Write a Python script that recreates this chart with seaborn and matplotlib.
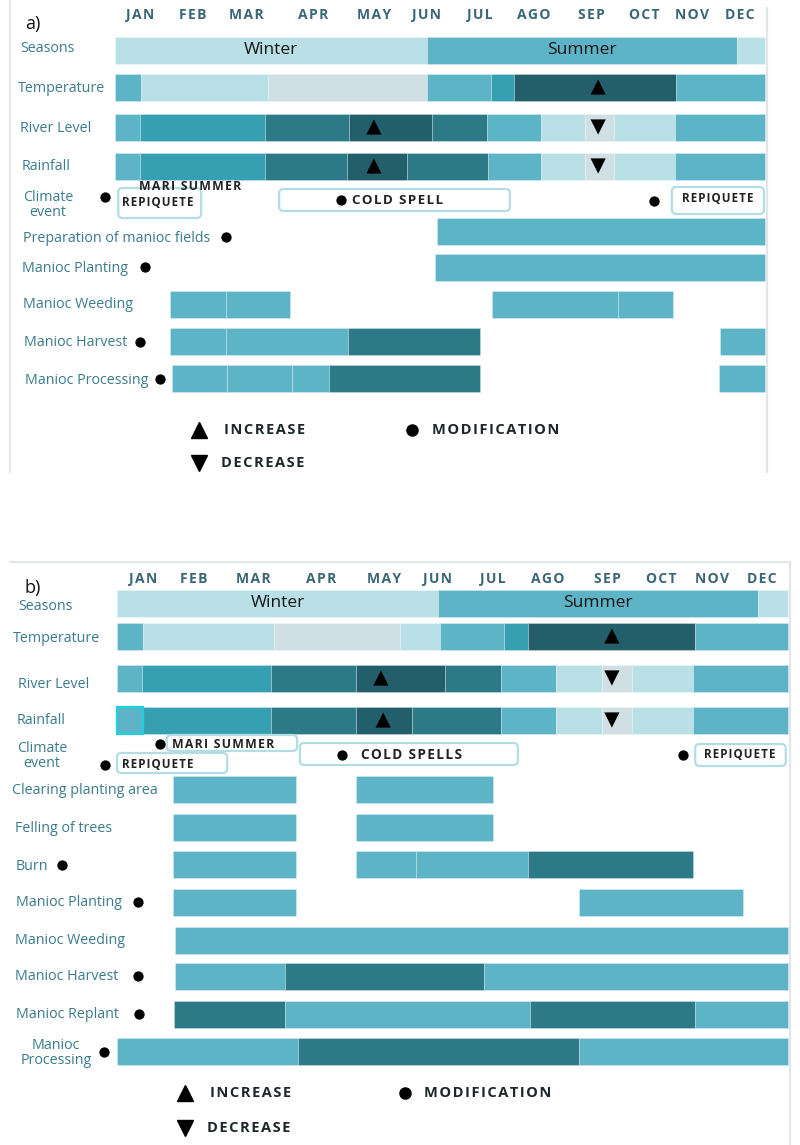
import pandas as pd
import seaborn as sns
import matplotlib.pyplot as plt
from matplotlib.patches import FancyBboxPatch
from matplotlib.lines import Line2D
from matplotlib.transforms import blended_transform_factory

MONTHS = ['JAN', 'FEB', 'MAR', 'APR', 'MAY', 'JUN', 'JUL', 'AGO', 'SEP', 'OCT', 'NOV', 'DEC']

TONES = {'light': '#b8e0e6', 'mid': '#5db4c6', 'teal': '#379fb2',
         'deep': '#2c7987', 'dark': '#235f6b', 'grey': '#cfdfe3'}

# ---- panel a : (start month, end month, tone) ----
A_SEASONS = [(0, 5.76, 'light'), (5.76, 11.48, 'mid'), (11.48, 12, 'light')]
A_SEASON_NAMES = ['Winter', 'Summer', '']
A_TEMPERATURE = [(0, 0.48, 'mid'), (0.48, 2.82, 'light'), (2.82, 5.76, 'grey'), (5.76, 6.94, 'mid'),
                 (6.94, 7.37, 'teal'), (7.37, 10.36, 'dark'), (10.36, 12, 'mid')]
A_RIVER = [(0, 0.46, 'mid'), (0.46, 2.77, 'teal'), (2.77, 4.32, 'deep'), (4.32, 5.85, 'dark'),
           (5.85, 6.87, 'deep'), (6.87, 7.86, 'mid'), (7.86, 8.68, 'light'), (8.68, 9.21, 'grey'),
           (9.21, 10.34, 'light'), (10.34, 12, 'mid')]
A_RAIN = [(0, 0.46, 'mid'), (0.46, 2.77, 'teal'), (2.77, 4.28, 'deep'), (4.28, 5.39, 'dark'),
          (5.39, 6.89, 'deep'), (6.89, 7.86, 'mid'), (7.86, 8.68, 'light'), (8.68, 9.21, 'grey'),
          (9.21, 10.34, 'light'), (10.34, 12, 'mid')]
A_PREP = [(5.94, 12, 'mid')]
A_PLANTING = [(5.91, 12, 'mid')]
A_WEEDING = [(1.02, 2.05, 'mid'), (2.05, 3.23, 'mid'), (6.96, 9.29, 'mid'), (9.29, 10.30, 'mid')]
A_HARVEST = [(1.02, 2.05, 'mid'), (2.05, 4.30, 'mid'), (4.30, 6.74, 'deep'), (11.17, 12, 'mid')]
A_PROCESSING = [(1.05, 2.07, 'mid'), (2.07, 3.27, 'mid'), (3.27, 3.95, 'mid'), (3.95, 6.74, 'deep'),
                (11.15, 12, 'mid')]
A_TRENDS = [('Temperature', 8.92, 'up'), ('River Level', 4.78, 'up'), ('River Level', 8.92, 'down'),
            ('Rainfall', 4.78, 'up'), ('Rainfall', 8.92, 'down')]
A_EVENTS = [('REPIQUETE', 0.06, 1.59), ('COLD SPELL', 3.03, 7.29), ('REPIQUETE', 10.28, 11.98)]

# ---- panel b ----
B_SEASONS = [(0, 5.74, 'light'), (5.74, 11.46, 'mid'), (11.46, 12, 'light')]
B_SEASON_NAMES = ['Winter', 'Summer', '']
B_TEMPERATURE = [(0, 0.46, 'mid'), (0.46, 2.81, 'light'), (2.81, 5.06, 'grey'), (5.06, 5.78, 'light'),
                 (5.78, 6.92, 'mid'), (6.92, 7.35, 'teal'), (7.35, 10.34, 'dark'), (10.34, 12, 'mid')]
B_RIVER = [(0, 0.45, 'mid'), (0.45, 2.75, 'teal'), (2.75, 4.27, 'deep'), (4.27, 5.87, 'dark'),
           (5.87, 6.87, 'deep'), (6.87, 7.85, 'mid'), (7.85, 8.67, 'light'), (8.67, 9.21, 'grey'),
           (9.21, 10.30, 'light'), (10.30, 12, 'mid')]
B_RAIN = [(0, 0.46, 'mid'), (0.46, 2.75, 'teal'), (2.75, 4.27, 'deep'), (4.27, 5.28, 'dark'),
          (5.28, 6.87, 'deep'), (6.87, 7.85, 'mid'), (7.85, 8.67, 'light'), (8.67, 9.21, 'grey'),
          (9.21, 10.30, 'light'), (10.30, 12, 'mid')]
B_CLEARING = [(1.00, 3.20, 'mid'), (4.27, 6.72, 'mid')]
B_FELLING = [(1.00, 3.20, 'mid'), (4.27, 6.72, 'mid')]
B_BURN = [(1.00, 3.20, 'mid'), (4.27, 5.35, 'mid'), (5.35, 7.35, 'mid'), (7.35, 10.30, 'deep')]
B_PLANTING = [(1.00, 3.20, 'mid'), (8.26, 11.19, 'mid')]
B_WEEDING = [(1.04, 12, 'mid')]
B_HARVEST = [(1.04, 3.00, 'mid'), (3.00, 6.56, 'deep'), (6.56, 12, 'mid')]
B_REPLANT = [(1.02, 3.00, 'deep'), (3.00, 7.39, 'mid'), (7.39, 10.34, 'deep'), (10.34, 12, 'mid')]
B_PROCESSING = [(0, 3.24, 'mid'), (3.24, 8.26, 'deep'), (8.26, 12, 'mid')]
B_TRENDS = [('Temperature', 8.85, 'up'), ('River Level', 4.72, 'up'), ('River Level', 8.85, 'down'),
            ('Rainfall', 4.76, 'up'), ('Rainfall', 8.85, 'down')]
B_EVENTS = [('MARI SUMMER', 0.89, 3.22), ('REPIQUETE', 0.0, 1.97), ('COLD SPELLS', 3.27, 7.17),
            ('REPIQUETE', 10.34, 11.96)]

LABEL_COLOR = '#3b7b8d'
MONTH_COLOR = '#3a6676'

# layout (pixels): row -> (bar y, label x, label y, dot x)
A_LAYOUT = dict(
    tag='a)', x0=115, x1=765, top=0, bottom=475, month_y=15,
    month_x=[140, 193, 246, 313, 374, 427, 480, 534, 591, 644, 692, 740],
    rows=[('Seasons', A_SEASONS, 50, 20, 49, None),
          ('Temperature', A_TEMPERATURE, 87, 18, 88, None),
          ('River Level', A_RIVER, 127, 20, 128, None),
          ('Rainfall', A_RAIN, 166, 22, 166, None),
          ('Preparation of manioc fields', A_PREP, 231, 23, 238, 226),
          ('Manioc Planting', A_PLANTING, 267, 22, 268, 145),
          ('Manioc Weeding', A_WEEDING, 304, 23, 304, None),
          ('Manioc Harvest', A_HARVEST, 341, 24, 343, 140),
          ('Manioc Processing', A_PROCESSING, 378, 25, 380, 160)],
    climate=(48, 205),
    # box top, box bottom, text x px, text y, dot x px, dot y, text size
    events=[(188, 218, 158, 202, 105, 197, 8.4), (189, 211, 398, 200, 341, 200, 9.6),
            (187, 214, 718, 199, 654, 201, 8.4)],
    extra=[('MARI SUMMER', 190, 187, 8.8)],
    legend=dict(up=(199, 430, 224), down=(199, 463, 221), mod=(412, 430, 432)),
    cyan_box=None,
)
B_LAYOUT = dict(
    tag='b)', x0=117, x1=788, top=560, bottom=1145, month_y=579,
    month_x=[143, 194, 253, 321, 384, 438, 493, 548, 607, 661, 712, 762],
    rows=[('Seasons', B_SEASONS, 603, 18, 606, None),
          ('Temperature', B_TEMPERATURE, 636, 13, 639, None),
          ('River Level', B_RIVER, 678, 18, 685, None),
          ('Rainfall', B_RAIN, 720, 17, 721, None),
          ('Clearing planting area', B_CLEARING, 789, 12, 790, None),
          ('Felling of trees', B_FELLING, 827, 15, 828, None),
          ('Burn', B_BURN, 864, 16, 866, 62),
          ('Manioc Planting', B_PLANTING, 902, 16, 903, 138),
          ('Manioc Weeding', B_WEEDING, 940, 15, 940, None),
          ('Manioc Harvest', B_HARVEST, 976, 15, 977, 138),
          ('Manioc Replant', B_REPLANT, 1014, 16, 1015, 139),
          ('Manioc\nProcessing', B_PROCESSING, 1051, 56, 1053, 104)],
    climate=(42, 756),
    events=[(735, 751, 223, 744, 160, 744, 8.8), (753, 773, 158, 765, 105, 765, 8.4),
            (743, 765, 412, 755, 342, 755, 9.8), (744, 766, 740, 755, 683, 755, 8.4)],
    extra=[],
    legend=dict(up=(185, 1093, 210), down=(185, 1128, 207), mod=(405, 1093, 424)),
    cyan_box='Rainfall',
)

sns.set_theme(style='white')
plt.rcParams['font.family'] = ['Open Sans', 'DejaVu Sans']

W, H = 800, 1145
fig = plt.figure(figsize=(W / 100, H / 100), dpi=100)


def spaced(s, gap='\u200a'):
    # letter-spaced caps like the original graphic
    return gap.join(s)


def draw_panel(lay, trends, events, season_names):
    top, bottom = lay['top'], lay['bottom']
    ax = fig.add_axes([0, 1 - bottom / H, 1, (bottom - top) / H])
    scale = (lay['x1'] - lay['x0']) / 12
    ax.set_xlim(-lay['x0'] / scale, (W - lay['x0']) / scale)
    ax.set_ylim(bottom, top)
    ax.axis('off')
    tr = blended_transform_factory(ax.transAxes, ax.transData)

    def mx(px):
        return (px - lay['x0']) / scale

    ax.text(25 / W, lay['month_y'] + 9, lay['tag'], transform=tr, fontsize=13, color='#111111',
            va='center', ha='left')
    for name, px in zip(MONTHS, lay['month_x']):
        ax.text(px / W, lay['month_y'], spaced(name), transform=tr, ha='center', va='center',
                fontsize=10, fontweight='bold', color=MONTH_COLOR)

    row_y = {}
    dots = []
    for label, segs, yb, lx, ly, dx in lay['rows']:
        row_y[label] = yb
        df = pd.DataFrame(segs, columns=['start', 'end', 'tone'])
        ax.barh(yb, df['end'] - df['start'], left=df['start'], height=27,
                color=[TONES[t] for t in df['tone']], edgecolor=(1, 1, 1, 0.3), linewidth=0.6)
        if label == lay['cyan_box']:
            s0 = df.iloc[0]
            ax.barh(yb, s0['end'] - s0['start'], left=s0['start'], height=27, color='none',
                    edgecolor='#1fd0df', linewidth=1.6)
        multi = '\n' in label
        ax.text(lx / W, ly, label, transform=tr, fontsize=10.3, color=LABEL_COLOR, va='center',
                ha='center' if multi else 'left', linespacing=1.0)
        if dx is not None:
            dots.append((mx(dx), ly - 1))
        if label == 'Seasons':
            for (s, e, _), nm in zip(segs, season_names):
                if nm:
                    ax.text((s + e) / 2, yb, nm, ha='center', va='center', fontsize=12.5, color='#151515')

    ax.text(lay['climate'][0] / W, lay['climate'][1], 'Climate\nevent', transform=tr, fontsize=10.3,
            color=LABEL_COLOR, ha='center', va='center', linespacing=1.0)

    for (name, s, e), (yt, ybt, tx, ty, dx, dy, fs) in zip(events, lay['events']):
        box = FancyBboxPatch((s, yt), e - s, ybt - yt, boxstyle='round,pad=0,rounding_size=0.08',
                             mutation_aspect=scale, facecolor='white', edgecolor='#b3dde4', linewidth=1.6)
        ax.add_patch(box)
        ax.text(mx(tx), ty, spaced(name), ha='center', va='center', fontsize=fs,
                fontweight='bold', color='#222222')
        dots.append((mx(dx), dy))
    for name, tx, ty, fs in lay['extra']:
        ax.text(mx(tx), ty, spaced(name), ha='center', va='center', fontsize=fs,
                fontweight='bold', color='#222222')

    tdf = pd.DataFrame([(row_y[r], x, k) for r, x, k in trends], columns=['y', 'x', 'kind'])
    sns.scatterplot(data=tdf, x='x', y='y', style='kind', markers={'up': '^', 'down': 'v'},
                    color='black', s=120, linewidth=0, legend=False, ax=ax)
    ddf = pd.DataFrame(dots, columns=['x', 'y'])
    sns.scatterplot(data=ddf, x='x', y='y', color='black', s=55, linewidth=0, legend=False, ax=ax)

    # legend
    leg = lay['legend']
    for key, marker, text in [('up', '^', 'INCREASE'), ('down', 'v', 'DECREASE'), ('mod', 'o', 'MODIFICATION')]:
        px, py, tx = leg[key]
        ax.plot(mx(px), py, marker=marker, color='black', markersize=11 if marker != 'o' else 8,
                linestyle='none')
        ax.text(mx(tx), py, spaced(text), ha='left', va='center', fontsize=10.5, fontweight='bold',
                color='#1d2629')
    return ax


draw_panel(A_LAYOUT, A_TRENDS, A_EVENTS, A_SEASON_NAMES)
draw_panel(B_LAYOUT, B_TRENDS, B_EVENTS, B_SEASON_NAMES)

# panel frames
frame = '#e2e5ea'
for (x0, y0, x1, y1) in [(10, 0, 10, 472), (767, 8, 767, 472), (10, 562, 790, 562), (790, 562, 790, 1145)]:
    fig.add_artist(Line2D([x0 / W, x1 / W], [1 - y0 / H, 1 - y1 / H], color=frame, linewidth=1.6))

fig.savefig('out.png', dpi=100)
